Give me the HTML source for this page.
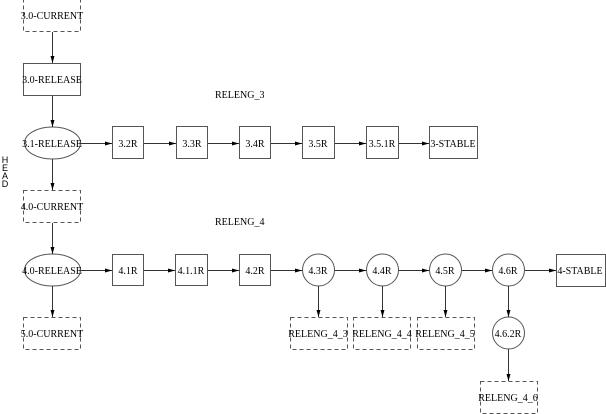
<!DOCTYPE html>
<html><head><meta charset="utf-8"><style>
html,body{margin:0;padding:0;background:#fff;width:606px;height:414px;overflow:hidden}
svg text{font-family:"Liberation Serif",serif;font-size:10px;fill:#000}
svg text.s{font-family:"Liberation Sans",sans-serif;font-size:9px}
</style></head><body>
<svg width="606" height="414" viewBox="0 0 606 414" xmlns="http://www.w3.org/2000/svg">
<defs><marker id="a" markerWidth="7" markerHeight="5" refX="7" refY="2.5" orient="auto" markerUnits="userSpaceOnUse"><path d="M0,0.5 L7,2.5 L0,4.5 z" fill="#000"/></marker></defs>
<g stroke="#555" stroke-width="1" fill="none">
<g stroke-dasharray="4,3">
<rect x="23.5" y="-0.5" width="57" height="32"/>
<rect x="23.5" y="190.5" width="57" height="32"/>
<rect x="23.5" y="317.5" width="57" height="32"/>
<rect x="290.5" y="317.5" width="57" height="32"/>
<rect x="353.5" y="317.5" width="57" height="32"/>
<rect x="417.5" y="317.5" width="57" height="32"/>
<rect x="480.5" y="381.5" width="57" height="32"/>
</g>
<rect x="23.5" y="63.5" width="57" height="32"/>
<ellipse cx="52.5" cy="143" rx="28" ry="16"/>
<ellipse cx="52.5" cy="270" rx="28" ry="16"/>
<rect x="112.5" y="126.5" width="31" height="32"/>
<rect x="176.5" y="126.5" width="31" height="32"/>
<rect x="239.5" y="126.5" width="31" height="32"/>
<rect x="302.5" y="126.5" width="32" height="32"/>
<rect x="366.5" y="126.5" width="32" height="32"/>
<rect x="429.5" y="126.5" width="48" height="32"/>
<rect x="112.5" y="254.5" width="31" height="31"/>
<rect x="175.5" y="254.5" width="32" height="31"/>
<rect x="239.5" y="254.5" width="31" height="31"/>
<circle cx="318.5" cy="270" r="16"/>
<circle cx="382.5" cy="270" r="16"/>
<circle cx="445.5" cy="270" r="16"/>
<circle cx="508.5" cy="270" r="16"/>
<circle cx="508.5" cy="333" r="16"/>
<rect x="556.5" y="254.5" width="49" height="32"/>
</g>
<g stroke="#333" stroke-width="1" fill="none" marker-end="url(#a)">
<line x1="52.5" y1="32" x2="52.5" y2="63"/>
<line x1="52.5" y1="96" x2="52.5" y2="127"/>
<line x1="52.5" y1="159" x2="52.5" y2="190"/>
<line x1="52.5" y1="223" x2="52.5" y2="254"/>
<line x1="52.5" y1="286" x2="52.5" y2="317"/>
<line x1="80" y1="143.5" x2="112" y2="143.5"/>
<line x1="144" y1="143.5" x2="176" y2="143.5"/>
<line x1="208" y1="143.5" x2="239" y2="143.5"/>
<line x1="271" y1="143.5" x2="302" y2="143.5"/>
<line x1="335" y1="143.5" x2="366" y2="143.5"/>
<line x1="399" y1="143.5" x2="429" y2="143.5"/>
<line x1="80" y1="270.5" x2="112" y2="270.5"/>
<line x1="144" y1="270.5" x2="175" y2="270.5"/>
<line x1="208" y1="270.5" x2="239" y2="270.5"/>
<line x1="271" y1="270.5" x2="302" y2="270.5"/>
<line x1="335" y1="270.5" x2="366" y2="270.5"/>
<line x1="399" y1="270.5" x2="429" y2="270.5"/>
<line x1="462" y1="270.5" x2="492" y2="270.5"/>
<line x1="525" y1="270.5" x2="556" y2="270.5"/>
<line x1="318.5" y1="286" x2="318.5" y2="317"/>
<line x1="382.5" y1="286" x2="382.5" y2="317"/>
<line x1="445.5" y1="286" x2="445.5" y2="317"/>
<line x1="508.5" y1="286" x2="508.5" y2="317"/>
<line x1="508.5" y1="349" x2="508.5" y2="381"/>
</g>
<g text-anchor="middle">
<text x="52" y="19">3.0-CURRENT</text>
<text x="52" y="83">3.0-RELEASE</text>
<text x="52" y="147">3.1-RELEASE</text>
<text x="52" y="210">4.0-CURRENT</text>
<text x="52" y="274">4.0-RELEASE</text>
<text x="52" y="337">5.0-CURRENT</text>
<text x="128" y="147">3.2R</text>
<text x="192" y="147">3.3R</text>
<text x="255" y="147">3.4R</text>
<text x="318" y="147">3.5R</text>
<text x="382" y="147">3.5.1R</text>
<text x="453" y="147">3-STABLE</text>
<text x="128" y="274">4.1R</text>
<text x="191" y="274">4.1.1R</text>
<text x="255" y="274">4.2R</text>
<text x="318" y="274">4.3R</text>
<text x="382" y="274">4.4R</text>
<text x="445" y="274">4.5R</text>
<text x="508" y="274">4.6R</text>
<text x="580" y="274">4-STABLE</text>
<text x="318" y="337">RELENG_4_3</text>
<text x="382" y="337">RELENG_4_4</text>
<text x="445" y="337">RELENG_4_5</text>
<text x="508" y="337">4.6.2R</text>
<text x="508" y="401">RELENG_4_6</text>
<text class="s" x="5" y="163">H</text>
<text class="s" x="5" y="171">E</text>
<text class="s" x="5" y="179">A</text>
<text class="s" x="5" y="187">D</text>
</g>
<text x="215" y="98">RELENG_3</text>
<text x="215" y="225">RELENG_4</text>
</svg>
</body></html>
